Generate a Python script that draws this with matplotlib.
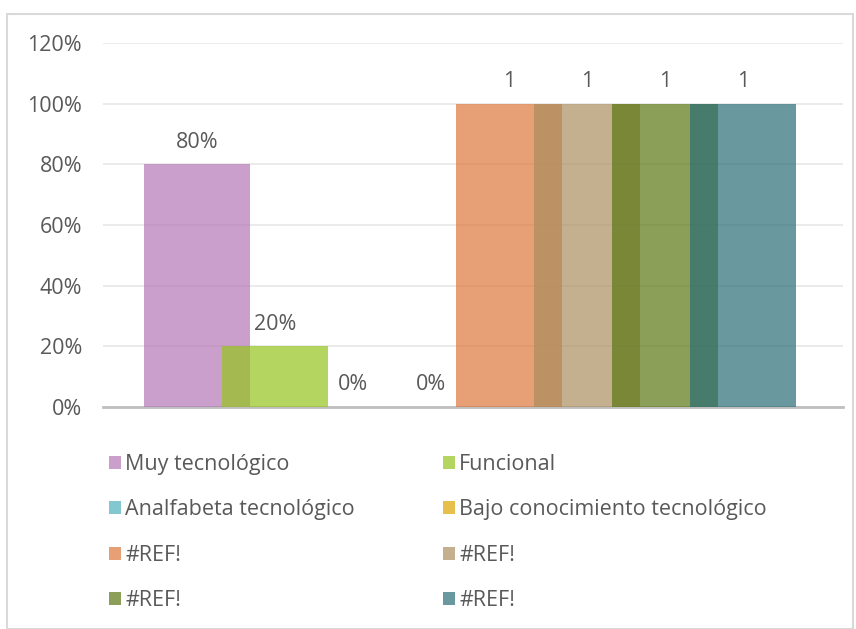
import numpy as np
import matplotlib.pyplot as plt
from matplotlib.patches import Rectangle

series = ['Muy tecnológico', 'Funcional', 'Analfabeta tecnológico',
          'Bajo conocimiento tecnológico', '#REF!', '#REF!', '#REF!', '#REF!']
values = [0.80, 0.20, 0.0, 0.0, 1, 1, 1, 1]
labels = ['80%', '20%', '0%', '0%', '1', '1', '1', '1']
colors = ['#b677b6', '#94c51c', '#4fb1bc', '#dea500',
          '#de763a', '#ab8d5f', '#5b7713', '#2a6c75']
yticks = [0, 0.2, 0.4, 0.6, 0.8, 1.0, 1.2]
ytick_labels = ['0%', '20%', '40%', '60%', '80%', '100%', '120%']

plt.rcParams['font.family'] = ['Open Sans', 'DejaVu Sans']
txt = '#595959'
fs = 15.5

fig = plt.figure(figsize=(8.56, 6.29), dpi=100)
ax = fig.add_axes([103/856, 1-407/629, 740/856, 364/629])

width = 106/740
step = 78/740
shift = -3/740
handles = []
for i, (v, c) in enumerate(zip(values, colors)):
    x = (i - 3.5) * step + shift
    b = ax.bar(x, v, width=width, color=c, alpha=0.7, zorder=3, label=series[i])
    handles.append(b)
    ax.annotate(labels[i], (x, v), xytext=(0, 16), textcoords='offset points',
                ha='center', va='center', fontsize=fs, color=txt)

ax.set_xlim(-0.5, 0.5)
ax.set_ylim(0, 1.2)
ax.set_yticks(yticks)
ax.set_yticklabels(ytick_labels, fontsize=fs, color=txt)
ax.tick_params(axis='y', length=0, pad=15)
ax.set_xticks([])
ax.grid(axis='y', color='#e8e8e8', linewidth=1.2, zorder=0)
for s in ['top', 'right', 'left']:
    ax.spines[s].set_visible(False)
ax.spines['bottom'].set_color('#bfbfbf')
ax.spines['bottom'].set_linewidth(2)

legkw = dict(loc='upper left', frameon=False, fontsize=fs, labelcolor=txt,
             handlelength=0.55, handleheight=0.55, handletextpad=0.2,
             labelspacing=1.13, borderaxespad=0, borderpad=0)
left = [0, 2, 4, 6]
right = [1, 3, 5, 7]
leg1 = fig.legend([handles[i] for i in left], [series[i] for i in left],
                  bbox_to_anchor=(109/856, 1-454/629), **legkw)
leg2 = fig.legend([handles[i] for i in right], [series[i] for i in right],
                  bbox_to_anchor=(443/856, 1-454/629), **legkw)

fig.patches.append(Rectangle((7/856, 0), 846/856, 1-14/629, transform=fig.transFigure,
                             fill=False, edgecolor='#d9d9d9', linewidth=1.5))

fig.savefig('out.png', dpi=100)
